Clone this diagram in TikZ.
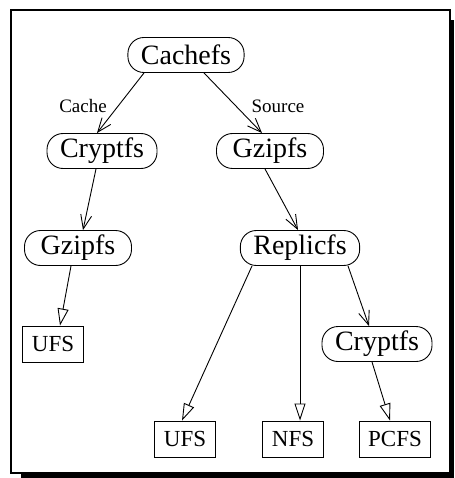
\documentclass[tikz,border=0pt]{standalone}
\usepackage{fontspec}
\setmainfont{Liberation Serif}
\usepackage{tikz}
\usetikzlibrary{arrows.meta, positioning}

\begin{document}
\begin{tikzpicture}[
  x=1pt, y=-1pt,
  fs/.style={draw, rounded corners=16pt, line width=0.9pt, minimum width=107pt, minimum height=35pt, inner xsep=13pt, font=\fontsize{28}{30}\selectfont},
  leaf/.style={draw, line width=0.9pt, minimum height=36pt, inner xsep=9pt, font=\fontsize{23}{25}\selectfont},
  lbl/.style={font=\fontsize{19}{21}\selectfont},
  arr/.style={-{Straight Barb[length=14pt, width=11pt]}, line width=0.9pt},
  tri/.style={-{Triangle[open, length=17pt, width=11pt]}, line width=0.9pt},
]
  \useasboundingbox (0, 0) rectangle (454, 478);
  % frame with shadow
  \fill[black] (21, 20) rectangle (454, 478);
  \draw[fill=white, line width=2pt] (11, 10) rectangle (450, 473);

  \node[fs] (cache) at (186, 55) {Cachefs};
  \node[fs] (cryptl) at (102, 151) {Cryptfs};
  \node[fs] (gzipr) at (270, 151) {Gzipfs};
  \node[fs] (gzipl) at (78, 248) {Gzipfs};
  \node[fs] (repl) at (300, 248) {Replicfs};
  \node[fs] (cryptr) at (377, 344) {Cryptfs};
  \node[leaf] (ufsl) at (53, 344) {UFS};
  \node[leaf] (ufs) at (185, 439) {UFS};
  \node[leaf] (nfs) at (293, 439) {NFS};
  \node[leaf] (pcfs) at (395, 439) {PCFS};
  \node[lbl] (cachelbl) at (83, 106) {Cache};
  \node[lbl] (srclbl) at (278, 106) {Source};

  \draw[arr] ([xshift=-42pt]cache.south) -- ([xshift=-5pt]cryptl.north);
  \draw[arr] ([xshift=18pt]cache.south) -- ([xshift=-8pt]gzipr.north);
  \draw[arr] ([xshift=-6pt]cryptl.south) -- ([xshift=5pt]gzipl.north);
  \draw[arr] ([xshift=-5pt]gzipr.south) -- ([xshift=-2pt]repl.north);
  \draw[arr] ([xshift=48pt]repl.south) -- ([xshift=-8pt]cryptr.north);
  \draw[tri] ([xshift=-7pt]gzipl.south) -- ([xshift=7pt]ufsl.north);
  \draw[tri] ([xshift=-48pt]repl.south) -- ([xshift=-3pt]ufs.north);
  \draw[tri] (repl.south) -- ([xshift=7pt]nfs.north);
  \draw[tri] ([xshift=-5pt]cryptr.south) -- ([xshift=-5pt]pcfs.north);
\end{tikzpicture}
\end{document}
